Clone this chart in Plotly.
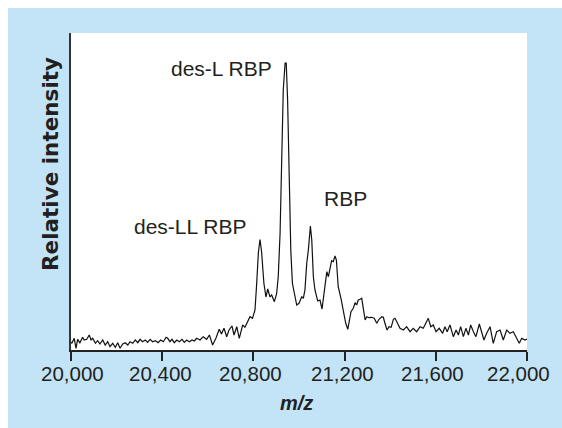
import plotly.graph_objects as go

# m/z positions of traced spectrum vertices
mz = [20000, 20004, 20014, 20022, 20029, 20039, 20051, 20058, 20069, 20080, 20088, 20095,
      20107, 20117, 20127, 20139, 20150, 20161, 20171, 20183, 20194, 20205, 20215, 20227,
      20238, 20249, 20259, 20271, 20282, 20293, 20303, 20314, 20326, 20336, 20347, 20358,
      20370, 20382, 20393, 20405, 20417, 20424, 20434, 20443, 20453, 20464, 20475, 20487,
      20497, 20507, 20519, 20531, 20541, 20551, 20566, 20580, 20595, 20607, 20621, 20636,
      20650, 20660, 20671, 20683, 20693, 20706, 20715, 20727, 20738, 20753, 20763, 20773,
      20785, 20796, 20807, 20814, 20822, 20829, 20836, 20846, 20855, 20863, 20873, 20880,
      20892, 20902, 20909, 20917, 20924, 20931, 20939, 20944, 20950, 20956, 20964, 20971,
      20979, 20990, 21000, 21012, 21019, 21026, 21034, 21041, 21050, 21056, 21063, 21070,
      21082, 21092, 21101, 21114, 21122, 21129, 21136, 21143, 21150, 21158, 21164, 21172,
      21184, 21194, 21205, 21214, 21221, 21228, 21238, 21246, 21253, 21260, 21268, 21275,
      21282, 21290, 21297, 21307, 21319, 21330, 21341, 21351, 21363, 21370, 21377, 21386,
      21395, 21404, 21414, 21421, 21429, 21443, 21458, 21472, 21487, 21501, 21516, 21531,
      21545, 21557, 21567, 21578, 21589, 21601, 21615, 21630, 21640, 21650, 21662, 21677,
      21689, 21699, 21709, 21721, 21732, 21743, 21753, 21765, 21776, 21791, 21801, 21811,
      21823, 21838, 21852, 21867, 21882, 21896, 21911, 21925, 21940, 21955, 21966, 21977,
      21991, 22000]

# relative intensity (arbitrary units) at those positions
intensity = [8, 6.7, 11.7, 1.7, 10.7, 7.3, 12.7, 10, 10.7, 15, 10, 11.7,
             6.7, 9.3, 6, 10, 5, 8.3, 3.3, 6.7, 2.7, 7.3, 1.7, 6,
             7.3, 5, 8.3, 6.7, 10, 7.3, 10.7, 8.3, 10, 7.7, 10.7, 8.3,
             9.3, 7.3, 10, 8.3, 12.7, 11.7, 8.3, 10.7, 7.3, 10, 8.3, 10.7,
             7.7, 10, 8.3, 10, 9, 11.7, 10, 13.3, 10.7, 15, 5, 12,
             20.7, 16, 21.7, 13.3, 20, 24, 15, 23.3, 11.7, 25, 22.7, 28,
             33.3, 31.7, 40, 65, 98, 110.5, 98, 66.7, 53, 61, 53, 55,
             48.3, 56.7, 73.3, 116.7, 200, 260, 287, 287, 250, 166.7, 100, 66.7,
             56.7, 45, 46.7, 53.3, 51.7, 60, 86.7, 100, 124, 110, 73.3, 60,
             49, 50, 41, 63.3, 78.3, 73.3, 80, 89.3, 88.3, 94, 90, 63.3,
             51.7, 38.3, 26.7, 20.7, 28.3, 38.3, 41.7, 47.3, 45, 50, 50.7, 51.7,
             41.7, 30, 33.3, 32.3, 32.7, 31.7, 26.7, 30.7, 33.3, 32.7, 26.7, 20,
             23.3, 22.7, 30.7, 31.7, 28.3, 21.7, 20, 23.3, 18.3, 21.7, 18.3, 23.3,
             21.7, 26.7, 31.7, 23.3, 25, 18.3, 21.7, 16.7, 23.3, 18.3, 25, 13.3,
             20, 15, 23.3, 13.3, 21.7, 15, 25, 18.3, 13.3, 26, 18.3, 10,
             16.7, 23.3, 6.7, 18.3, 20, 10, 20, 16.7, 18.3, 11.7, 6.7, 11.7,
             10, 11]

tick_vals = [20000, 20400, 20800, 21200, 21600, 22000]
tick_text = ["20,000", "20,400", "20,800", "21,200", "21,600", "22,000"]

labels = ["des-L RBP", "RBP", "des-LL RBP"]
label_mz = [20658, 21204, 20522]
label_int = [282, 152, 124]

BLUE = "#c2e4f6"
INK = "#231f20"
FONT = "Liberation Sans, Arial, sans-serif"

# plot-area geometry inside the 546x412 figure
L, R, T, B = 63, 27, 25, 70
W, H = 546, 412
PW, PH = W - L - R, H - T - B


def px(fx):
    return (fx - L) / PW


def py(fy):
    return (H - B - fy) / PH


fig = go.Figure()
fig.add_trace(go.Scatter(x=mz, y=intensity, mode="lines",
                         line=dict(color="#111111", width=1.2),
                         hoverinfo="skip", showlegend=False))

for t, xx, yy in zip(labels, label_mz, label_int):
    fig.add_annotation(x=xx, y=yy, xref="x", yref="y", text=t, showarrow=False,
                       xanchor="center", yanchor="middle",
                       font=dict(family=FONT, size=21, color=INK))

# tick labels (the last one is pulled inward, as in the original)
shifts = [1, -2, -2.5, -2.5, -3, -8.5]
for v, t, s in zip(tick_vals, tick_text, shifts):
    fig.add_annotation(x=v, y=py(365), xref="x", yref="paper", text=t, showarrow=False,
                       xanchor="center", yanchor="middle", xshift=s,
                       font=dict(family=FONT, size=20.5, color=INK))

# axis titles
fig.add_annotation(x=px(42), y=py(156), xref="paper", yref="paper",
                   text="<b>Relative intensity</b>", showarrow=False, textangle=-90,
                   xanchor="center", yanchor="middle",
                   font=dict(family="DejaVu Sans, sans-serif", size=21.5, color=INK))
fig.add_annotation(x=px(288), y=py(395), xref="paper", yref="paper",
                   text="<b><i>m/z</i></b>", showarrow=False,
                   xanchor="center", yanchor="middle",
                   font=dict(family=FONT, size=20, color=INK))

fig.update_layout(
    width=W, height=H,
    margin=dict(l=L, r=R, t=T, b=B),
    paper_bgcolor=BLUE, plot_bgcolor="white",
    font=dict(family=FONT, color=INK),
    xaxis=dict(range=[20000, 22000], tickvals=tick_vals, showticklabels=False,
               showgrid=False, zeroline=False, showline=True, linecolor="#222222",
               linewidth=1.5, ticks="outside", ticklen=9, tickwidth=1.5, tickcolor="#222222"),
    yaxis=dict(range=[0, 317], showgrid=False, zeroline=False, showline=True,
               linecolor="#333333", linewidth=2, showticklabels=False, ticks=""),
)

# page backdrop: blue panel continues to the right and bottom edges of the window
page_bg = ("document.documentElement.style.background="
           "'linear-gradient(#ffffff,#ffffff) top left / 100% 8px no-repeat,"
           " linear-gradient(to right,#ffffff 8px," + BLUE + " 8px)';")

fig.write_html("out.html", post_script=page_bg)
